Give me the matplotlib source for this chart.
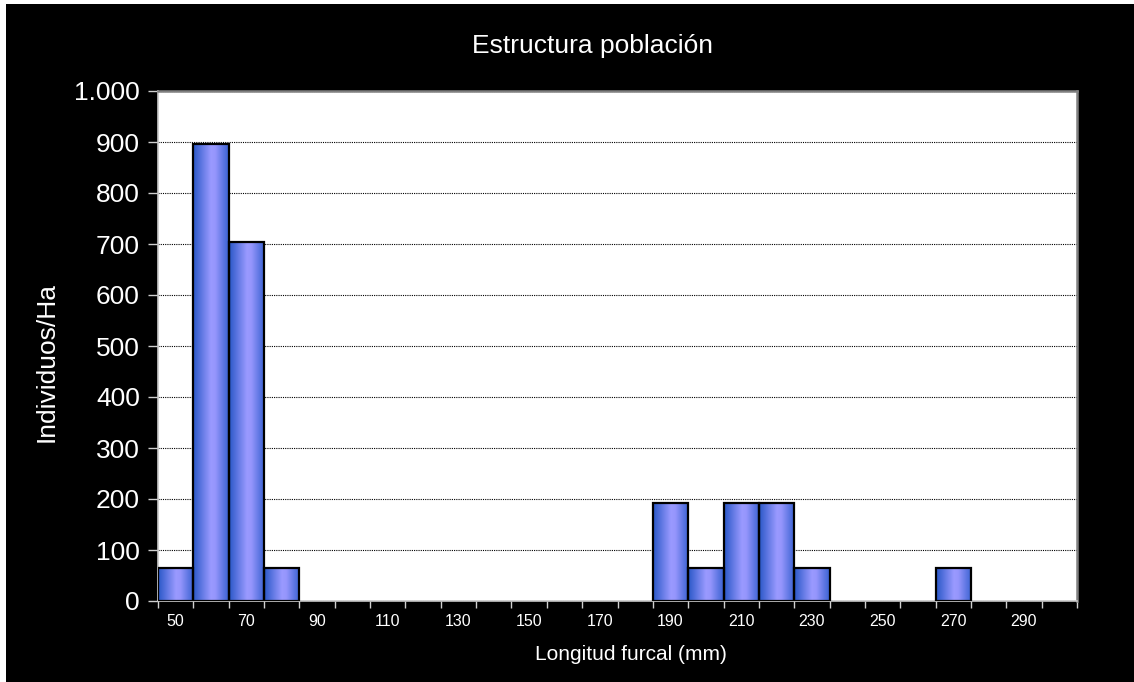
import matplotlib
matplotlib.use("Agg")
import matplotlib.pyplot as plt
import numpy as np
from matplotlib.patches import Rectangle
from matplotlib.colors import LinearSegmentedColormap

categories = [50, 60, 70, 80, 90, 100, 110, 120, 130, 140, 150, 160, 170, 180,
              190, 200, 210, 220, 230, 240, 250, 260, 270, 280, 290, 300]
values = [64, 896, 704, 64, 0, 0, 0, 0, 0, 0, 0, 0, 0, 0,
          192, 64, 192, 192, 64, 0, 0, 0, 64, 0, 0, 0]
tick_labels = ["50", "70", "90", "110", "130", "150", "170", "190", "210",
               "230", "250", "270", "290"]
y_ticks = [0, 100, 200, 300, 400, 500, 600, 700, 800, 900, 1000]
y_tick_labels = ["0", "100", "200", "300", "400", "500", "600", "700", "800", "900", "1.000"]

plt.rcParams['font.family'] = ['Liberation Sans', 'DejaVu Sans']

W, H = 1134, 682
fig = plt.figure(figsize=(W / 100, H / 100), dpi=100)
fig.patch.set_facecolor("white")
fig.patches.append(Rectangle((6 / W, 0), 1 - 6 / W, 1 - 4 / H, transform=fig.transFigure,
                             facecolor="black", edgecolor="none", zorder=-5))

ax = fig.add_axes([158 / W, 1 - 601 / H, (1077 - 158) / W, (601 - 91) / H])
ax.set_zorder(3)
ax.set_facecolor("white")

x = np.arange(len(categories))

cmap = LinearSegmentedColormap.from_list(
    "barg", [(0, "#2A58C8"), (0.5, "#9A9AFF"), (0.62, "#9696FC"), (1, "#3A62D2")])
grad = np.linspace(0, 1, 64).reshape(1, -1)

bars = ax.bar(x, values, width=1.0, facecolor="none", edgecolor="black",
              linewidth=1.6, zorder=4)
for b, v in zip(bars, values):
    if v <= 0:
        b.set_visible(False)
        continue
    x0 = b.get_x()
    im = ax.imshow(grad, cmap=cmap, aspect="auto", extent=(x0, x0 + b.get_width(), 0, v),
                   zorder=3, interpolation="bilinear")
    im.set_clip_path(b)

ax.set_xlim(-0.5, len(categories) - 0.5)
ax.set_ylim(0, 1000)

# grid
ax.set_yticks(y_ticks)
ax.set_yticklabels(y_tick_labels)
ax.yaxis.grid(True, color="black", linestyle=(0, (1, 1)), linewidth=0.8, zorder=1)
ax.set_axisbelow(True)

# x ticks at category boundaries, labels at every other category
ax.set_xticks(np.arange(-0.5, len(categories), 1.0))
ax.set_xticklabels([])
ax.set_xticks(x[:len(tick_labels) * 2:2], minor=True)
ax.set_xticklabels(tick_labels, minor=True)
ax.tick_params(axis="x", which="major", direction="out", length=5, width=1, color="#d0d0d0")
ax.tick_params(axis="x", which="minor", length=0, pad=9, labelsize=11.5, labelcolor="white")
ax.tick_params(axis="y", direction="out", length=7, width=1, color="#d0d0d0",
               labelsize=19, labelcolor="white", pad=6)

for side in ["left", "bottom"]:
    ax.spines[side].set_color("#c8c8c8")
    ax.spines[side].set_linewidth(1.2)
for side in ["top", "right"]:
    ax.spines[side].set_color("#808080")
    ax.spines[side].set_linewidth(1.8)

fig.text(592 / W, 1 - 46 / H, "Estructura población", color="white", fontsize=19,
         ha="center", va="center")
fig.text(631 / W, 1 - 655 / H, "Longitud furcal (mm)", color="white", fontsize=15,
         ha="center", va="center")
fig.text(47 / W, 1 - 362 / H, "Individuos/Ha", color="white", fontsize=19,
         ha="center", va="center", rotation=90)

fig.savefig("out.png", dpi=100, facecolor=fig.get_facecolor())
